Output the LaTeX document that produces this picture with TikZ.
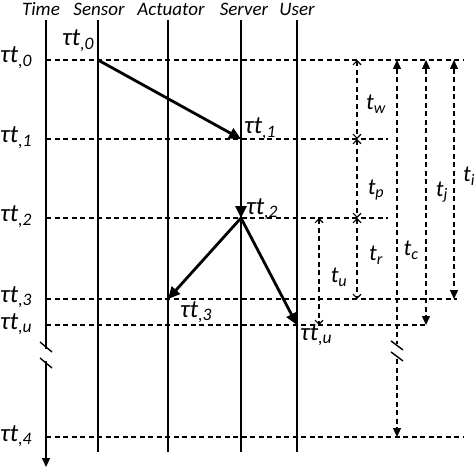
\documentclass[tikz,border=0pt]{standalone}
\usepackage{fontspec}
\setmainfont{Carlito}
\usetikzlibrary{arrows.meta}
\newcommand\tauT[1]{τt\textsubscript{,#1}}
\begin{document}
\begin{tikzpicture}[x=1pt,y=-1pt,
  lane/.style={line width=1.2pt},
  grid/.style={line width=1.3pt, dash pattern=on 5pt off 3.5pt},
  msg/.style={line width=2.8pt, -{Triangle[length=12pt,width=11pt]}},
  span/.style={line width=1.3pt, dash pattern=on 5pt off 3.5pt},
  openboth/.style={span, {Straight Barb[length=4pt,width=8pt,line width=1.1pt]}-{Straight Barb[length=4pt,width=8pt,line width=1.1pt]}},
  fillboth/.style={span, {Triangle[length=9pt,width=8pt]}-{Triangle[length=9pt,width=8pt]}},
  brk/.style={line width=1.4pt},
  hdr/.style={font=\fontsize{19}{20}\selectfont\itshape, inner sep=0pt},
  tau/.style={font=\fontsize{25}{26}\selectfont\itshape, inner sep=0pt},
  dlab/.style={font=\fontsize{23}{24}\selectfont\itshape, inner sep=0pt},
]
\useasboundingbox (0,0) rectangle (474,468);

% headers
\node[hdr] (hTime) at (41,9) {Time};
\node[hdr] (hSensor) at (99,9) {Sensor};
\node[hdr] (hAct) at (171,9) {Actuator};
\node[hdr] (hServer) at (244,9) {Server};
\node[hdr] (hUser) at (297,9) {User};

% lanes
\coordinate (timeTop) at (46,20);
\coordinate (timeBrkA) at (46,349);
\coordinate (timeBrkB) at (46,361);
\coordinate (timeEnd) at (46,467);
\draw[lane] (timeTop) -- (timeBrkA);
\draw[lane,-{Triangle[length=9pt,width=8pt]}] (timeBrkB) -- (timeEnd);
\draw[brk] (40,342) -- (52,352);
\draw[brk] (40,358) -- (52,368);

\foreach \n/\x in {sen/98, act/168, srv/241, usr/297}{
  \coordinate (\n Top) at (\x,20);
  \coordinate (\n Bot) at (\x,452);
  \draw[lane] (\n Top) -- (\n Bot);
}

% horizontal dashed time lines
\draw[grid] (46,60) -- (463,60);
\draw[grid] (46,139) -- (388,139);
\draw[grid] (46,218) -- (388,218);
\draw[grid] (46,299) -- (457,299);
\draw[grid] (46,325) -- (428,325);
\draw[grid] (46,437) -- (463,437);

% left time labels
\node[tau,anchor=base west] (L0) at (0,63) {\tauT{0}};
\node[tau,anchor=base west] (L1) at (0,143) {\tauT{1}};
\node[tau,anchor=base west] (L2) at (0,222) {\tauT{2}};
\node[tau,anchor=base west] (L3) at (0,302) {\tauT{3}};
\node[tau,anchor=base west] (Lu) at (0,329) {\tauT{u}};
\node[tau,anchor=base west] (L4) at (0,441) {\tauT{4}};

% events
\coordinate (e0) at (98,60);
\coordinate (e1) at (241,139);
\coordinate (e2) at (241,218);
\coordinate (e3) at (168,299);
\coordinate (eu) at (297,325);
\draw[msg] (e0) -- (e1);
\draw[msg] (e1) -- (e2);
\draw[msg] (e2) -- (e3);
\draw[msg] (e2) -- (eu);

\node[tau,anchor=base west] (P0) at (62,46) {\tauT{0}};
\node[tau,anchor=base west] (P1) at (244,134) {\tauT{1}};
\node[tau,anchor=base west] (P2) at (246,214) {\tauT{2}};
\node[tau,anchor=base west] (P3) at (180,317) {\tauT{3}};
\node[tau,anchor=base west] (Pu) at (300,340) {\tauT{u}};

% interval arrows
\coordinate (w0) at (357,60);
\coordinate (w1) at (357,139);
\coordinate (w2) at (357,218);
\coordinate (w3) at (357,299);
\draw[openboth] (w0) -- (w1);
\draw[openboth] (w1) -- (w2);
\draw[openboth] (w2) -- (w3);
\coordinate (u0) at (319,218);
\coordinate (u1) at (319,325);
\draw[openboth] (u0) -- (u1);

\coordinate (c0) at (397,60);
\coordinate (cA) at (397,344);
\coordinate (cB) at (397,359);
\coordinate (c1) at (397,437);
\draw[span,{Triangle[length=9pt,width=8pt]}-] (c0) -- (cA);
\draw[span,-{Triangle[length=9pt,width=8pt]}] (cB) -- (c1);
\draw[brk] (391,341) -- (403,350);
\draw[brk] (391,352) -- (403,361);

\coordinate (j0) at (426,60);
\coordinate (j1) at (426,325);
\draw[fillboth] (j0) -- (j1);
\coordinate (i0) at (454,60);
\coordinate (i1) at (454,299);
\draw[fillboth] (i0) -- (i1);

% interval labels
\node[dlab] (tw) at (376,104) {t\textsubscript{w}};
\node[dlab] (tp) at (376,190) {t\textsubscript{p}};
\node[dlab] (tr) at (376,255) {t\textsubscript{r}};
\node[dlab] (tu) at (339,277) {t\textsubscript{u}};
\node[dlab] (tc) at (411,250) {t\textsubscript{c}};
\node[dlab] (tj) at (442,192) {t\textsubscript{j}};
\node[dlab] (ti) at (469,176) {t\textsubscript{i}};
\end{tikzpicture}
\end{document}
